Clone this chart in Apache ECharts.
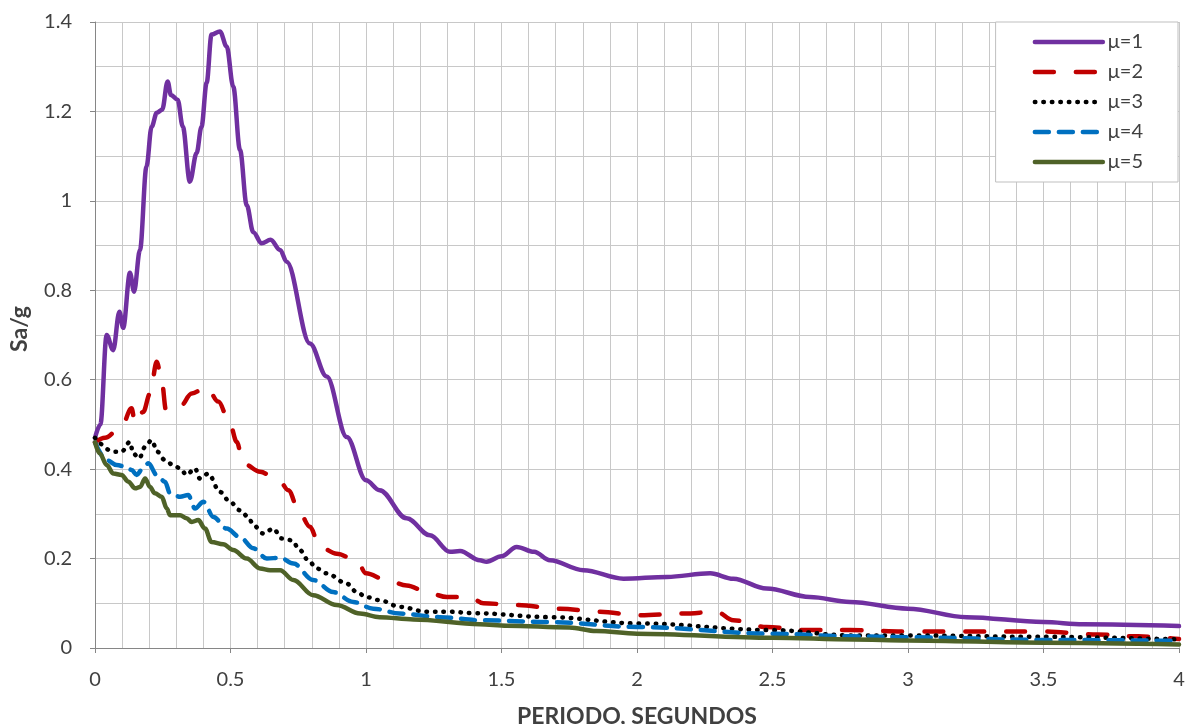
<!DOCTYPE html>
<html>
<head>
<meta charset="utf-8">
<script src="https://cdn.jsdelivr.net/npm/echarts@6/dist/echarts.min.js"></script>
<style>
  html, body { margin: 0; padding: 0; background: #ffffff; }
  #chart { width: 1189px; height: 724px; }
</style>
</head>
<body>
<div id="chart"></div>
<script>
// periods (s) and Sa/g, one pair of arrays per ductility
var mu1Period = [0, 0.02, 0.043, 0.067, 0.09, 0.104, 0.129, 0.144, 0.166, 0.19, 0.209, 0.228, 0.248, 0.268, 0.28, 0.305, 0.324, 0.35, 0.375, 0.393, 0.412, 0.43, 0.461, 0.486, 0.51, 0.535, 0.56, 0.584, 0.615, 0.648, 0.683, 0.707, 0.793, 0.855, 0.929, 1.0, 1.05, 1.15, 1.236, 1.31, 1.347, 1.42, 1.445, 1.5, 1.556, 1.62, 1.679, 1.802, 1.95, 2.11, 2.27, 2.355, 2.478, 2.638, 2.786, 3.0, 3.216, 3.5, 3.646, 4.0];
var mu1Sa = [0.47, 0.50, 0.70, 0.666, 0.752, 0.716, 0.839, 0.797, 0.89, 1.077, 1.166, 1.197, 1.204, 1.267, 1.237, 1.226, 1.166, 1.043, 1.107, 1.166, 1.264, 1.372, 1.379, 1.345, 1.256, 1.114, 0.99, 0.93, 0.905, 0.913, 0.89, 0.864, 0.681, 0.607, 0.472, 0.375, 0.353, 0.29, 0.252, 0.215, 0.217, 0.196, 0.193, 0.205, 0.226, 0.215, 0.196, 0.174, 0.155, 0.159, 0.167, 0.155, 0.133, 0.114, 0.103, 0.088, 0.069, 0.058, 0.053, 0.049];

var mu2Period = [0, 0.037, 0.098, 0.135, 0.148, 0.178, 0.203, 0.228, 0.246, 0.262, 0.314, 0.357, 0.412, 0.455, 0.498, 0.523, 0.547, 0.609, 0.683, 0.713, 0.756, 0.793, 0.83, 0.892, 0.966, 1.0, 1.076, 1.15, 1.236, 1.298, 1.384, 1.433, 1.556, 1.716, 1.863, 2.011, 2.17, 2.294, 2.355, 2.478, 2.626, 2.786, 3.0, 3.5, 3.7, 3.85, 4.0];
var mu2Sa = [0.46, 0.47, 0.495, 0.536, 0.502, 0.528, 0.569, 0.64, 0.599, 0.532, 0.54, 0.569, 0.584, 0.551, 0.502, 0.461, 0.413, 0.394, 0.372, 0.353, 0.301, 0.271, 0.226, 0.211, 0.196, 0.167, 0.152, 0.14, 0.122, 0.114, 0.114, 0.1, 0.096, 0.088, 0.081, 0.073, 0.077, 0.081, 0.062, 0.047, 0.04, 0.04, 0.037, 0.037, 0.03, 0.026, 0.02];

var mu3Period = [0, 0.068, 0.098, 0.129, 0.141, 0.163, 0.185, 0.209, 0.23, 0.258, 0.289, 0.314, 0.338, 0.369, 0.387, 0.418, 0.461, 0.498, 0.535, 0.566, 0.584, 0.621, 0.658, 0.689, 0.726, 0.756, 0.787, 0.818, 0.855, 0.929, 0.966, 1.0, 1.05, 1.125, 1.224, 1.31, 1.396, 1.679, 2.0, 2.5, 2.79, 3.0, 3.5, 4.0];
var mu3Sa = [0.47, 0.439, 0.439, 0.461, 0.435, 0.424, 0.45, 0.465, 0.439, 0.42, 0.409, 0.402, 0.387, 0.402, 0.379, 0.39, 0.349, 0.327, 0.308, 0.293, 0.275, 0.256, 0.267, 0.245, 0.241, 0.219, 0.196, 0.178, 0.167, 0.144, 0.125, 0.114, 0.107, 0.092, 0.081, 0.081, 0.078, 0.069, 0.055, 0.04, 0.028, 0.028, 0.025, 0.019];

var mu4Period = [0, 0.043, 0.08, 0.117, 0.135, 0.154, 0.172, 0.197, 0.228, 0.258, 0.277, 0.314, 0.344, 0.369, 0.4, 0.437, 0.486, 0.535, 0.584, 0.634, 0.683, 0.732, 0.805, 0.879, 0.953, 1.027, 1.125, 1.273, 1.42, 1.68, 2.0, 2.5, 2.8, 3.0, 3.5, 4.0];
var mu4Sa = [0.46, 0.42, 0.409, 0.405, 0.398, 0.387, 0.398, 0.413, 0.387, 0.372, 0.346, 0.338, 0.342, 0.312, 0.327, 0.293, 0.267, 0.248, 0.223, 0.2, 0.202, 0.189, 0.152, 0.125, 0.103, 0.088, 0.077, 0.069, 0.062, 0.058, 0.047, 0.032, 0.026, 0.024, 0.018, 0.016];

var mu5Period = [0, 0.018, 0.043, 0.068, 0.098, 0.123, 0.148, 0.166, 0.185, 0.203, 0.221, 0.246, 0.265, 0.277, 0.314, 0.338, 0.357, 0.381, 0.406, 0.43, 0.473, 0.51, 0.56, 0.609, 0.646, 0.683, 0.732, 0.805, 0.892, 0.978, 1.05, 1.175, 1.42, 1.52, 1.75, 1.85, 2.0, 2.5, 2.8, 3.0, 3.5, 4.0];
var mu5Sa = [0.46, 0.435, 0.409, 0.39, 0.387, 0.372, 0.357, 0.36, 0.379, 0.36, 0.346, 0.338, 0.312, 0.297, 0.297, 0.29, 0.282, 0.286, 0.267, 0.237, 0.232, 0.219, 0.2, 0.178, 0.174, 0.174, 0.152, 0.118, 0.096, 0.077, 0.069, 0.064, 0.053, 0.05, 0.046, 0.038, 0.032, 0.023, 0.019, 0.017, 0.012, 0.008];

var seriesNames = ["μ=1", "μ=2", "μ=3", "μ=4", "μ=5"];

function pairs(t, v) {
  var out = [];
  for (var i = 0; i < t.length; i++) {
    out.push([t[i], v[i]]);
  }
  return out;
}

var textColor = "#404040";
var gridColor = "#c8c8c8";
var axisColor = "#868686";
var font = "Lato, 'Open Sans', sans-serif";

function makeLine(name, data, color, dash) {
  return {
    name: name,
    type: "line",
    data: data,
    symbol: "none",
    smooth: 0.35,
    smoothMonotone: "x",
    lineStyle: {
      color: color,
      width: 4.5,
      type: dash,
      cap: "round",
      join: "round"
    },
    itemStyle: { color: color }
  };
}

var chart = echarts.init(document.getElementById("chart"));
chart.setOption({
  animation: false,
  backgroundColor: "#ffffff",
  textStyle: { fontFamily: font },
  grid: {
    left: 95,
    right: 10,
    top: 22,
    bottom: 76,
    outerBoundsMode: "none"
  },
  legend: {
    orient: "vertical",
    right: 11,
    top: 22,
    itemWidth: 68,
    itemHeight: 14,
    itemGap: 10,
    padding: [10, 35, 10, 37],
    backgroundColor: "#ffffff",
    borderColor: "#bfbfbf",
    borderWidth: 1,
    borderRadius: 0,
    // hide the marker dot, keep only the line sample
    itemStyle: { opacity: 0 },
    lineStyle: { width: 4.5 },
    data: seriesNames,
    textStyle: {
      fontSize: 20,
      color: textColor,
      fontFamily: font,
      lineHeight: 20
    }
  },
  xAxis: {
    type: "value",
    min: 0,
    max: 4,
    interval: 0.5,
    name: "PERIODO, SEGUNDOS",
    nameLocation: "middle",
    nameGap: 57,
    nameTextStyle: {
      fontSize: 23,
      fontWeight: "bold",
      color: textColor,
      fontFamily: font
    },
    axisLine: { show: true, lineStyle: { color: axisColor, width: 1 } },
    axisTick: { show: true, length: 5, lineStyle: { color: axisColor } },
    axisLabel: { fontSize: 20, color: textColor, margin: 22, fontFamily: font },
    splitLine: { show: true, lineStyle: { color: gridColor, width: 1 } },
    minorTick: { show: false, splitNumber: 5 },
    minorSplitLine: { show: true, lineStyle: { color: gridColor, width: 1 } }
  },
  yAxis: {
    type: "value",
    min: 0,
    max: 1.4,
    interval: 0.2,
    name: "Sa/g",
    nameLocation: "middle",
    nameGap: 64,
    nameTextStyle: {
      fontSize: 23,
      fontWeight: "bold",
      color: textColor,
      fontFamily: font,
      padding: [0, 0, 0, 12]
    },
    axisLine: { show: true, lineStyle: { color: axisColor, width: 1 } },
    axisTick: { show: true, length: 5, lineStyle: { color: axisColor } },
    axisLabel: { fontSize: 20, color: textColor, margin: 23, fontFamily: font },
    splitLine: { show: true, lineStyle: { color: gridColor, width: 1 } },
    minorTick: { show: false, splitNumber: 2 },
    minorSplitLine: { show: true, lineStyle: { color: gridColor, width: 1 } }
  },
  series: [
    makeLine(seriesNames[0], pairs(mu1Period, mu1Sa), "#7030a0", "solid"),
    makeLine(seriesNames[1], pairs(mu2Period, mu2Sa), "#c00000", [19, 22]),
    makeLine(seriesNames[2], pairs(mu3Period, mu3Sa), "#000000", [0.5, 8]),
    makeLine(seriesNames[3], pairs(mu4Period, mu4Sa), "#0070c0", [14, 10]),
    makeLine(seriesNames[4], pairs(mu5Period, mu5Sa), "#4f6228", "solid")
  ]
});
</script>
</body>
</html>
